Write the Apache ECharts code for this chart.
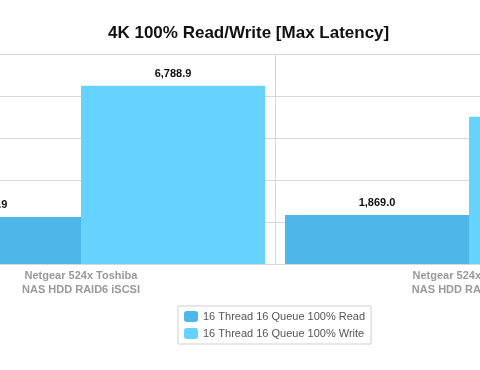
<!DOCTYPE html>
<html>
<head>
<meta charset="utf-8">
<script src="https://cdn.jsdelivr.net/npm/echarts@6/dist/echarts.min.js"></script>
<style>html,body{margin:0;padding:0;background:#fff;overflow:hidden;width:480px;height:370px}#c{width:1000px;height:370px;margin-left:-260px}</style>
</head>
<body>
<div id="c"></div>
<script>
const titleText = '4K 100% Read/Write [Max Latency]';
const categories = ['Netgear 524x Toshiba\nNAS HDD RAID6 iSCSI', 'Netgear 524x Toshiba\nNAS HDD RAID6 CIFS'];
const seriesNames = ['16 Thread 16 Queue 100% Read', '16 Thread 16 Queue 100% Write'];
const readValues = [1792.9, 1869.0];
const writeValues = [6788.9, 5608.4];
const yMax = 8000;
const yInterval = 1600;

const fmt = v => v.toLocaleString('en-US', {minimumFractionDigits: 1, maximumFractionDigits: 1});
const FONT = '"Liberation Sans", Helvetica, Arial, sans-serif';
const labelCfg = {
  show: true, position: 'top', distance: 6,
  color: '#111', fontWeight: 'bold', fontSize: 11, fontFamily: FONT,
  formatter: p => fmt(p.value)
};
const chart = echarts.init(document.getElementById('c'));
chart.setOption({
  animation: false,
  backgroundColor: '#fff',
  title: {
    text: titleText, left: 363, top: 20,
    textStyle: {fontFamily: FONT, fontWeight: 'bold', fontSize: 17, color: '#111'}
  },
  legend: {
    orient: 'vertical', left: 438, top: 306,
    borderColor: '#d0d0d0', borderWidth: 1, padding: [5, 6, 5, 6],
    itemWidth: 14, itemHeight: 11, itemGap: 6,
    textStyle: {fontFamily: FONT, fontSize: 11, color: '#555'},
    data: seriesNames
  },
  grid: {left: 147, right: 77, top: 54, bottom: 106},
  xAxis: {
    type: 'category', data: categories,
    axisLine: {lineStyle: {color: '#d8d8d8'}},
    axisTick: {show: false},
    splitLine: {show: true, lineStyle: {color: '#d8d8d8'}},
    axisLabel: {color: '#999', fontWeight: 'bold', fontSize: 11, fontFamily: FONT, lineHeight: 14, margin: 5}
  },
  yAxis: {
    type: 'value', min: 0, max: yMax, interval: yInterval,
    axisLabel: {show: false}, axisLine: {show: false}, axisTick: {show: false},
    splitLine: {lineStyle: {color: '#d8d8d8'}}
  },
  series: [
    {name: seriesNames[0], type: 'bar', data: readValues, barWidth: 184, barGap: '0%',
     itemStyle: {color: '#4db7e9'}, label: labelCfg},
    {name: seriesNames[1], type: 'bar', data: writeValues, barWidth: 184,
     itemStyle: {color: '#66d3fe'}, label: labelCfg}
  ]
});
</script>
</body>
</html>
